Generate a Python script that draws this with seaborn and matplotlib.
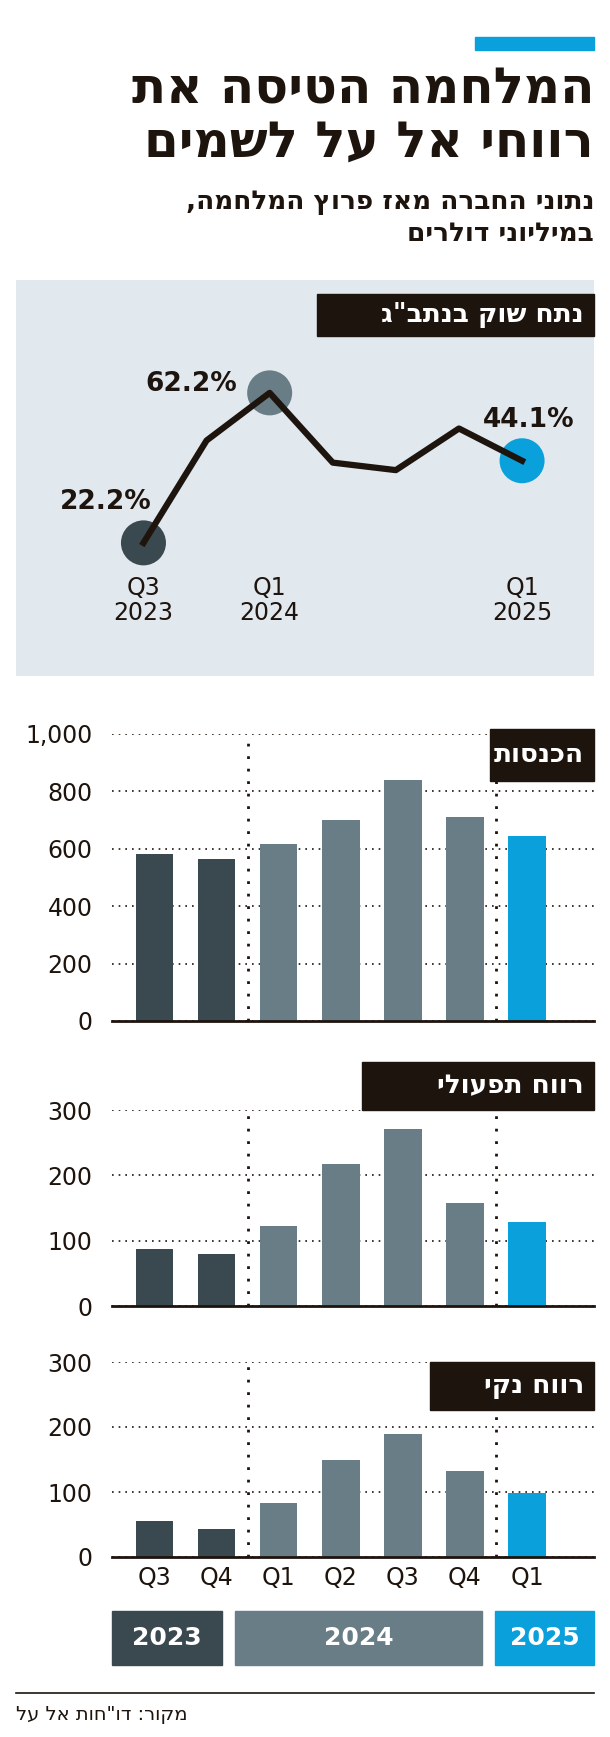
import matplotlib
matplotlib.use("Agg")
import matplotlib.pyplot as plt
import seaborn as sns
import pandas as pd
from matplotlib.patches import Rectangle

# data
quarters = ["Q3", "Q4", "Q1", "Q2", "Q3", "Q4", "Q1"]
years = ["2023", "2024", "2025"]
market_share = [22.2, 49.5, 62.2, 43.6, 41.6, 52.7, 44.1]
revenue = [581, 566, 616, 702, 841, 712, 646]
op_profit = [88, 79, 122, 217, 271, 157, 129]
net_profit = [55, 43, 83, 150, 190, 133, 98]

DARK, MID, BLUE = "#3a494f", "#697d86", "#0aa0db"
bar_colors = [DARK, DARK, MID, MID, MID, MID, BLUE]
INK = "#1e140e"

W, H = 610, 1737
fig = plt.figure(figsize=(W / 100, H / 100), dpi=100)
fig.patch.set_facecolor("white")


def rtl(s):
    return s[::-1]


def ax_px(x0, y0, x1, y1, **kw):
    return fig.add_axes([x0 / W, 1 - y1 / H, (x1 - x0) / W, (y1 - y0) / H], **kw)


def fig_text(x, y, s, **kw):
    fig.text(x / W, 1 - y / H, s, **kw)


def label_box(x0, y0, x1, y1, s, size):
    fig.patches.append(Rectangle((x0 / W, 1 - y1 / H), (x1 - x0) / W, (y1 - y0) / H,
                                 transform=fig.transFigure, color=INK, zorder=5))
    fig_text(x1 - 10, (y0 + y1) / 2, rtl(s), ha="right", va="center", color="white",
             fontsize=size, fontweight="bold", family="DejaVu Sans", zorder=6)


# header
fig.patches.append(Rectangle((475 / W, 1 - 50 / H), 119 / W, 13 / H,
                             transform=fig.transFigure, color=BLUE))
fig_text(594, 90, rtl("המלחמה הטיסה את"), ha="right", va="center", fontsize=36,
         fontweight="bold", color=INK)
fig_text(594, 143, rtl("רווחי אל על לשמים"), ha="right", va="center", fontsize=36,
         fontweight="bold", color=INK)
fig_text(594, 202, rtl("נתוני החברה מאז פרוץ המלחמה,"), ha="right", va="center",
         fontsize=19, fontweight="bold", color=INK)
fig_text(594, 234, rtl("במיליוני דולרים"), ha="right", va="center",
         fontsize=19, fontweight="bold", color=INK)

# market share panel
ax = ax_px(16, 280, 594, 676)
ax.set_facecolor("#e1e8ee")
xs = list(range(len(market_share)))
sns.lineplot(x=xs, y=market_share, ax=ax, color=INK, lw=4.5, zorder=2)
for i, c in [(0, DARK), (2, MID), (6, BLUE)]:
    ax.scatter([xs[i]], [market_share[i]], s=1050, color=c, zorder=1, edgecolors="none")
ax.set_xlim(-2.02, 7.14)
ax.set_ylim(-13.3, 92.3)
for sp in ax.spines.values():
    sp.set_visible(False)
ax.set_xticks([])
ax.set_yticks([])
ax.text(xs[0] - 0.6, market_share[0] + 9, f"{market_share[0]}%", ha="center",
        fontsize=19, fontweight="bold", color=INK)
ax.text(xs[2] - 1.25, market_share[2] + 0.5, f"{market_share[2]}%", ha="center",
        fontsize=19, fontweight="bold", color=INK)
ax.text(xs[6] + 0.1, market_share[6] + 9, f"{market_share[6]}%", ha="center",
        fontsize=19, fontweight="bold", color=INK)
for i, yr in [(0, "2023"), (2, "2024"), (6, "2025")]:
    ax.text(xs[i], 13.5, f"{quarters[i]}\n{yr}", ha="center", va="top", fontsize=17,
            color=INK, linespacing=1.1)
label_box(317, 294, 594, 336, "נתח שוק בנתב\"ג", 19)


def bar_panel(y_top, y_zero, top_val, step, values, title, box):
    a = ax_px(112, y_top, 594, y_zero)
    df = pd.DataFrame({"i": range(len(values)), "v": values})
    sns.barplot(data=df, x="i", y="v", hue="i", palette=bar_colors, legend=False,
                width=0.6, ax=a, saturation=1, zorder=3)
    a.set_xlim(-0.69, 7.08)
    a.set_ylim(0, top_val)
    ticks = list(range(0, top_val + 1, step))
    a.set_yticks(ticks)
    a.set_yticklabels([f"{t:,}" for t in ticks], fontsize=17, color=INK)
    a.yaxis.grid(True, linestyle=(0, (1, 3)), color=INK, lw=1.2, zorder=0)
    a.set_axisbelow(True)
    a.tick_params(axis="y", length=0, pad=14)
    a.set_xticks([])
    a.set_xlabel("")
    a.set_ylabel("")
    for k, sp in a.spines.items():
        sp.set_visible(k == "bottom")
    a.spines["bottom"].set_color(INK)
    a.spines["bottom"].set_linewidth(2)
    a.spines["bottom"].set_zorder(4)
    for xv in [1.5, 5.5]:
        a.axvline(xv, ymax=1.0, color=INK, linestyle=(0, (1, 3.5)), lw=2, zorder=1)
    label_box(*box, title, 19)
    return a


bar_panel(734, 1021, 1000, 200, revenue, "הכנסות", (490, 729, 594, 781))
bar_panel(1110, 1306, 300, 100, op_profit, "רווח תפעולי", (362, 1062, 594, 1110))
a3 = bar_panel(1362, 1557, 300, 100, net_profit, "רווח נקי", (430, 1362, 594, 1410))
for i, q in enumerate(quarters):
    a3.text(i, -14, q, ha="center", va="top", fontsize=17, color=INK)

# year boxes
for (x0, x1), yr, c in zip([(112, 222), (235, 482), (495, 594)], years, [DARK, MID, BLUE]):
    fig.patches.append(Rectangle((x0 / W, 1 - 1665 / H), (x1 - x0) / W, 54 / H,
                                 transform=fig.transFigure, color=c))
    fig_text((x0 + x1) / 2, 1638, yr, ha="center", va="center", fontsize=18,
             fontweight="bold", color="white")

# source
fig.add_artist(plt.Line2D([16 / W, 594 / W], [1 - 1693 / H, 1 - 1693 / H],
                          color=INK, lw=1.2, transform=fig.transFigure))
fig_text(16, 1715, rtl("מקור: דו\"חות אל על"), ha="left", va="center", fontsize=14,
         color=INK)

fig.savefig("out.png", dpi=100)
